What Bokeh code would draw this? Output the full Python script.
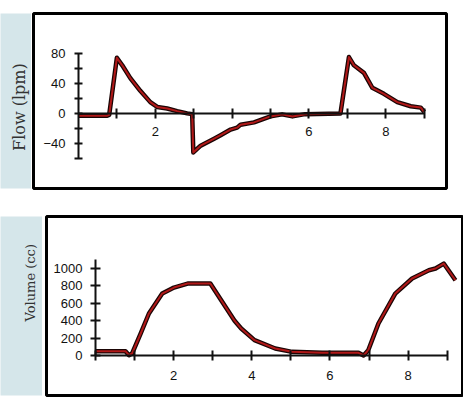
from math import pi
from bokeh.plotting import figure
from bokeh.layouts import row, column
from bokeh.models import Range1d, FixedTicker, Label
from bokeh.embed import file_html
from bokeh.resources import INLINE

# ---- data ----
time_flow = [0.0, 0.75, 0.80, 1.00, 1.14, 1.35, 1.61, 1.87, 2.05, 2.31, 2.57, 2.83, 2.96,
             2.99, 3.18, 3.52, 3.70, 3.96, 4.13, 4.22, 4.57, 5.00, 5.30, 5.57, 5.90, 6.82,
             7.04, 7.17, 7.43, 7.65, 7.95, 8.30, 8.65, 8.91, 9.00]
flow_lpm = [-3, -3, -2, 74, 64, 47, 30, 15, 8.6, 6.5, 3, 0, -1,
            -52, -43, -34, -29, -21.5, -19, -15, -12, -4, -1.3, -4, -1, 0,
            75, 64, 54, 34, 26, 15, 9.5, 7.7, 2]

time_vol = [0.0, 0.77, 0.86, 0.94, 1.16, 1.37, 1.71, 2.01, 2.36, 2.94, 3.21, 3.56, 3.73,
            4.07, 4.60, 5.03, 5.80, 6.73, 6.86, 6.98, 7.24, 7.67, 8.10, 8.53, 8.70, 8.91, 9.21]
volume_cc = [50, 50, 4, 23, 253, 483, 712, 781, 827, 827, 640, 400, 310,
             176, 80, 42, 31, 31, 0, 61, 368, 712, 885, 980, 1000, 1057, 865]

flow_major = [-40, 0, 40, 80]
flow_minor = [-60, -20, 20, 60]
flow_time_labels = [2, 6, 8]
flow_time_minor = [1, 3, 4, 5, 7, 9]

vol_major = [0, 200, 400, 600, 800, 1000]
vol_time_labels = [2, 4, 6, 8]
vol_time_minor = [0, 1, 3, 5, 7, 9]

BAND = "#d5e6ea"


def band(width, height, bottom_gap, text, size, tx, ty):
    b = figure(width=width, height=height, x_range=Range1d(0, 1), y_range=Range1d(0, 1),
               x_axis_type=None, y_axis_type=None, toolbar_location=None,
               output_backend="svg", min_border_left=0, min_border_right=0,
               min_border_top=0, min_border_bottom=bottom_gap,
               background_fill_color=BAND, border_fill_color="white",
               outline_line_color=None)
    b.add_layout(Label(x=tx, y=ty, text=text, angle=pi / 2, text_align="center",
                       text_baseline="middle", text_font="DejaVu Serif",
                       text_font_size=size, text_color="#333333"))
    return b


def panel(width, height, mb, xr, yr):
    p = figure(width=width, height=height, x_range=Range1d(*xr), y_range=Range1d(*yr),
               toolbar_location=None, output_backend="svg",
               min_border_left=mb[0], min_border_right=mb[1],
               min_border_top=mb[2], min_border_bottom=mb[3],
               background_fill_color="white", border_fill_color="white",
               outline_line_color="black", outline_line_width=3)
    p.grid.visible = False
    for ax in (p.xaxis, p.yaxis):
        ax.fixed_location = 0
        ax.axis_line_width = 2
        ax.axis_line_color = "#111111"
        ax.major_tick_line_width = 2
        ax.minor_tick_line_width = 2
        ax.major_tick_line_color = "#111111"
        ax.minor_tick_line_color = "#111111"
        ax.major_tick_in = 5
        ax.major_tick_out = 5
        ax.minor_tick_in = 5
        ax.minor_tick_out = 5
        ax.major_label_text_font = "Liberation Sans"
        ax.major_label_text_font_size = "13px"
        ax.major_label_text_color = "#111111"
    return p


# ---- top: flow ----
p1 = panel(432, 205, (2, 17, 13, 17), (-1.17, 9.58), (-100, 133))
p1.xaxis.bounds = (0, 9)
p1.yaxis.bounds = (-60, 80)
p1.xaxis.ticker = FixedTicker(ticks=flow_time_labels, minor_ticks=flow_time_minor)
p1.yaxis.ticker = FixedTicker(ticks=flow_major, minor_ticks=flow_minor)
p1.yaxis.major_tick_in = 4
p1.yaxis.major_tick_out = 4
p1.yaxis.minor_tick_in = 4
p1.yaxis.minor_tick_out = 4
p1.yaxis.major_label_standoff = 9
p1.xaxis.major_label_standoff = 9
p1.line(time_flow, flow_lpm, line_color="#1a0505", line_width=4.5, line_join="round")
p1.line(time_flow, flow_lpm, line_color="#b01818", line_width=2, line_join="round")

b1 = band(31, 205, 5, "Flow (lpm)", "16px", 0.61, 0.465)

# ---- bottom: volume ----
p2 = panel(421, 193, (4, 1, 11, 3), (-1.25, 9.39), (-460, 1598))
p2.xaxis.bounds = (0, 9)
p2.yaxis.bounds = (0, 1100)
p2.xaxis.ticker = FixedTicker(ticks=vol_time_labels, minor_ticks=vol_time_minor)
p2.yaxis.ticker = FixedTicker(ticks=vol_major, minor_ticks=[])
p2.yaxis.major_label_standoff = 8
p2.xaxis.major_label_standoff = 11
p2.line(time_vol, volume_cc, line_color="#1a0505", line_width=4.5, line_join="round")
p2.line(time_vol, volume_cc, line_color="#b01818", line_width=2, line_join="round")

b2 = band(42, 193, 0, "Volume (cc)", "13px", 0.71, 0.63)

layout = column(row(b1, p1), row(b2, p2))

open("out.html", "w").write(file_html(layout, INLINE))
